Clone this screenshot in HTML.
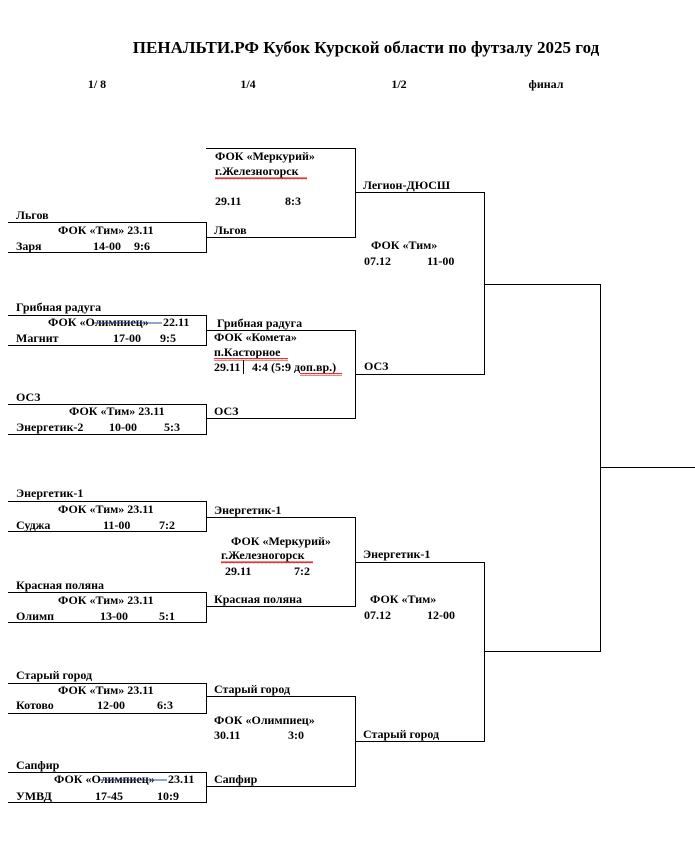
<!DOCTYPE html>
<html><head><meta charset="utf-8"><style>
html,body{margin:0;padding:0;background:#fff;}
svg{display:block;}
text{font-family:"Liberation Serif",serif;font-weight:bold;font-size:12px;fill:#000;}
.t{font-size:17px;}
.w{stroke:#d00;stroke-width:1;fill:none;}
</style></head><body>
<svg width="695" height="842" viewBox="0 0 695 842" xmlns="http://www.w3.org/2000/svg">
<defs><pattern id="wv" width="4" height="3" patternUnits="userSpaceOnUse"><path d="M0 2 L1 0.5 L2 2 L3 0.5 L4 2" stroke="#d00" fill="none" stroke-width="0.8"/></pattern></defs>
<g stroke="#000" stroke-width="1" fill="none">
<path d="M8 222.5H206.5V252.5H8"/>
<path d="M8 315.5H206.5V345.5H8"/>
<path d="M8 404.5H206.5V434.5H8"/>
<path d="M8 501.5H206.5V531.5H8"/>
<path d="M8 592.5H206.5V622.5H8"/>
<path d="M8 683.5H206.5V713.5H8"/>
<path d="M8 772.5H206.5V802.5H8"/>
<path d="M206 148.5H355.5V237.5H206"/>
<path d="M206 330.5H355.5V418.5H206"/>
<path d="M206 517.5H355.5V606.5H206"/>
<path d="M206 696.5H355.5V786.5H206"/>
<path d="M355 192.5H484.5V374.5H355"/>
<path d="M355 562.5H484.5V741.5H355"/>
<path d="M484 284.5H600.5V651.5H484"/>
<path d="M600 467.5H695"/>
</g>
<text class="t" x="366" y="53" text-anchor="middle">ПЕНАЛЬТИ.РФ Кубок Курской области по футзалу 2025 год</text>
<text x="97" y="88" text-anchor="middle">1/ 8</text>
<text x="248" y="88" text-anchor="middle">1/4</text>
<text x="399" y="88" text-anchor="middle">1/2</text>
<text x="546" y="88" text-anchor="middle">финал</text>

<text x="16" y="219">Льгов</text>
<text x="58" y="234">ФОК «Тим» 23.11</text>
<text x="16" y="250">Заря</text><text x="93" y="250">14-00</text><text x="134" y="250">9:6</text>

<text x="16" y="311">Грибная радуга</text>
<text x="48" y="326">ФОК «Олимпиец»</text><text x="163" y="326">22.11</text>
<text x="16" y="342">Магнит</text><text x="113" y="342">17-00</text><text x="160" y="342">9:5</text>

<text x="16" y="401">ОСЗ</text>
<text x="69" y="415">ФОК «Тим» 23.11</text>
<text x="16" y="431">Энергетик-2</text><text x="109" y="431">10-00</text><text x="164" y="431">5:3</text>

<text x="16" y="497">Энергетик-1</text>
<text x="58" y="513">ФОК «Тим» 23.11</text>
<text x="16" y="529">Суджа</text><text x="103" y="529">11-00</text><text x="159" y="529">7:2</text>

<text x="16" y="589">Красная поляна</text>
<text x="58" y="604">ФОК «Тим» 23.11</text>
<text x="16" y="620">Олимп</text><text x="100" y="620">13-00</text><text x="159" y="620">5:1</text>

<text x="16" y="679">Старый город</text>
<text x="58" y="694">ФОК «Тим» 23.11</text>
<text x="16" y="709">Котово</text><text x="97" y="709">12-00</text><text x="157" y="709">6:3</text>

<text x="16" y="769">Сапфир</text>
<text x="54" y="783">ФОК «Олимпиец»</text><text x="168" y="783">23.11</text>
<text x="16" y="800">УМВД</text><text x="95" y="800">17-45</text><text x="157" y="800">10:9</text>

<text x="215" y="160">ФОК «Меркурий»</text>
<text x="215" y="175">г.Железногорск</text>
<text x="215" y="205">29.11</text><text x="285" y="205">8:3</text>
<text x="214" y="234">Льгов</text>

<text x="217" y="327">Грибная радуга</text>
<text x="214" y="341">ФОК «Комета»</text>
<text x="214" y="356">п.Касторное</text>
<text x="214" y="371">29.11</text><line x1="243.5" y1="360" x2="243.5" y2="374" stroke="#000"/><text x="252" y="371">4:4 (5:9 доп.вр.)</text>
<text x="214" y="415">ОСЗ</text>

<text x="214" y="514">Энергетик-1</text>
<text x="231" y="545">ФОК «Меркурий»</text>
<text x="221" y="559">г.Железногорск</text>
<text x="225" y="575">29.11</text><text x="294" y="575">7:2</text>
<text x="214" y="603">Красная поляна</text>

<text x="214" y="693">Старый город</text>
<text x="214" y="724">ФОК «Олимпиец»</text>
<text x="214" y="739">30.11</text><text x="288" y="739">3:0</text>
<text x="214" y="783">Сапфир</text>

<text x="363" y="189">Легион-ДЮСШ</text>
<text x="371" y="249">ФОК «Тим»</text>
<text x="364" y="265">07.12</text><text x="427" y="265">11-00</text>
<text x="364" y="370">ОСЗ</text>

<text x="363" y="558">Энергетик-1</text>
<text x="370" y="603">ФОК «Тим»</text>
<text x="364" y="619">07.12</text><text x="427" y="619">12-00</text>
<text x="363" y="738">Старый город</text>

<rect x="215" y="177" width="92" height="3" fill="url(#wv)"/>
<rect x="214" y="358" width="74" height="3" fill="url(#wv)"/>
<rect x="300" y="373" width="42" height="3" fill="url(#wv)"/>
<rect x="221" y="561" width="92" height="3" fill="url(#wv)"/>
<line x1="94" y1="323" x2="162" y2="323" stroke="#2a4d8f"/>
<line x1="100" y1="780" x2="167" y2="780" stroke="#2a4d8f"/>
</svg>
</body></html>
